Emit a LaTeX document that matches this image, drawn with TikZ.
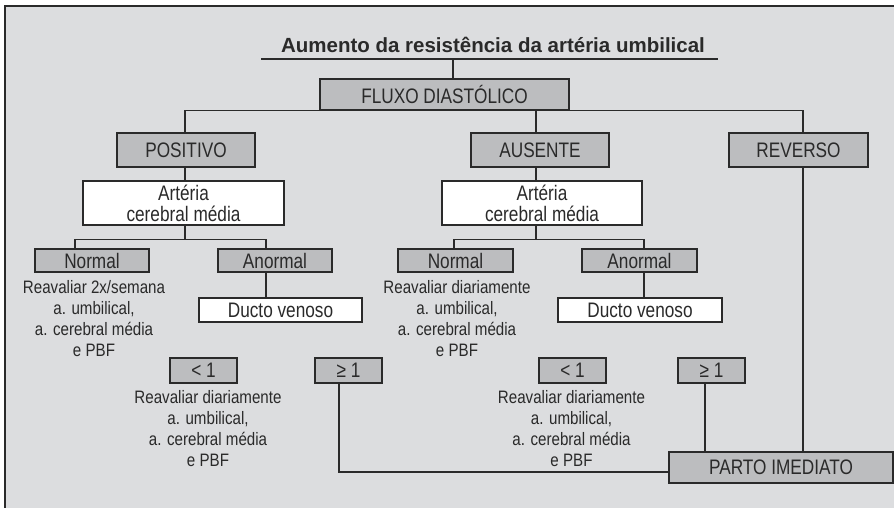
\documentclass[tikz,border=0pt]{standalone}
\usepackage{fontspec}
\setmainfont{Liberation Sans}
\newfontfamily\narrowfont{Liberation Sans}[FakeStretch=0.82]
\newfontfamily\notefont{Liberation Sans}[FakeStretch=0.84]
\usepackage{xcolor}
\definecolor{panelgray}{HTML}{DCDDDF}
\definecolor{boxgray}{HTML}{BCBDBF}
\definecolor{inkgray}{HTML}{2A2A2A}
\usetikzlibrary{shapes,calc}
\tikzstyle{graybox} = [rectangle, draw=inkgray, fill=boxgray, line width=1.3pt,
   inner sep=0pt, text centered, font=\narrowfont\fontsize{21}{21}\selectfont]
\tikzstyle{whitebox} = [rectangle, draw=inkgray, fill=white, line width=1.3pt,
   inner sep=0pt, text centered, font=\narrowfont\fontsize{21}{21}\selectfont]
\tikzstyle{note} = [align=center, inner sep=0pt,
   font=\notefont\fontsize{18}{21}\selectfont]
\tikzstyle{line} = [draw=inkgray, line width=1.3pt]

\begin{document}
\begin{tikzpicture}[x=1pt, y=-1pt, text=inkgray]
\useasboundingbox (0,0) rectangle (894,507);
\clip (0,0) rectangle (894,507);
\draw [fill=panelgray, draw=inkgray, line width=1.6pt] (5,6) rectangle (910,520);
% Place nodes
\node [font=\bfseries\fontsize{20.5}{24}\selectfont, inner sep=0pt] (title) at (493,45) {Aumento da resistência da artéria umbilical};
\coordinate (ulA) at (261,59);
\coordinate (ulB) at (718,59);
\node [graybox, minimum width=249, minimum height=31] (fluxo) at (444.5,94.5) {FLUXO DIASTÓLICO};
\node [graybox, minimum width=138, minimum height=34] (pos) at (186,150) {POSITIVO};
\node [graybox, minimum width=138, minimum height=34] (aus) at (540,150) {AUSENTE};
\node [graybox, minimum width=139, minimum height=34] (rev) at (798.5,150) {REVERSO};
\node [whitebox, minimum width=201, minimum height=44, align=center] (art1) at (183.5,203) {Artéria\\cerebral média};
\node [whitebox, minimum width=200, minimum height=44, align=center] (art2) at (542,203) {Artéria\\cerebral média};
\node [graybox, minimum width=114, minimum height=23] (norm1) at (92,260.5) {Normal};
\node [graybox, minimum width=114, minimum height=23] (anorm1) at (275,260.5) {Anormal};
\node [graybox, minimum width=115, minimum height=23] (norm2) at (455.5,260.5) {Normal};
\node [graybox, minimum width=115, minimum height=23] (anorm2) at (639.5,260.5) {Anormal};
\node [note] (txtA) at (94,318.5) {Reavaliar 2x/semana\\a. umbilical,\\a. cerebral média\\e PBF};
\node [note] (txtB) at (457,318.5) {Reavaliar diariamente\\a. umbilical,\\a. cerebral média\\e PBF};
\node [whitebox, minimum width=163, minimum height=24] (ducto1) at (280.5,310) {Ducto venoso};
\node [whitebox, minimum width=164, minimum height=24] (ducto2) at (640,310) {Ducto venoso};
\node [graybox, minimum width=67, minimum height=25] (lt1) at (203.5,370.5) {< 1};
\node [graybox, minimum width=67, minimum height=25] (ge1) at (348.5,370.5) {≥ 1};
\node [graybox, minimum width=67, minimum height=25] (lt2) at (572.5,370.5) {< 1};
\node [graybox, minimum width=67, minimum height=25] (ge2) at (711.5,370.5) {≥ 1};
\node [note] (txtC) at (208,428.5) {Reavaliar diariamente\\a. umbilical,\\a. cerebral média\\e PBF};
\node [note] (txtD) at (571.5,428.5) {Reavaliar diariamente\\a. umbilical,\\a. cerebral média\\e PBF};
\node [graybox, minimum width=224, minimum height=31] (parto) at (781,467.5) {PARTO IMEDIATO};
% Draw edges
\path [line] (ulA) -- (ulB);
\path [line] ([xshift=8.5]fluxo.north) -- ([xshift=8.5]fluxo.north |- ulA);
\path [line] ([xshift=-1]pos.north) |- (fluxo.south);
\path [line] ([xshift=4.5]rev.north) |- (fluxo.south);
\path [line] ([xshift=-4]aus.north) -- ([xshift=-4]aus.north |- fluxo.south);
\path [line] ([xshift=-1]pos.south) -- ([xshift=-1]pos.south |- art1.north);
\path [line] ([xshift=-4]aus.south) -- ([xshift=-4]aus.south |- art2.north);
\path [line] ([xshift=1.5]art1.south) -- ++(0,14) -| ([xshift=-17]norm1.north);
\path [line] ([xshift=1.5]art1.south) ++(0,14) -| ([xshift=-9]anorm1.north);
\path [line] ([xshift=-6]art2.south) -- ++(0,14) -| ([xshift=-1.5]norm2.north);
\path [line] ([xshift=-6]art2.south) ++(0,14) -| ([xshift=4.5]anorm2.north);
\path [line] ([xshift=-9]anorm1.south) -- ([xshift=-9]anorm1.south |- ducto1.north);
\path [line] ([xshift=4.5]anorm2.south) -- ([xshift=4.5]anorm2.south |- ducto2.north);
\path [line] ([xshift=-9.5]ge1.south) |- ([yshift=-4.5]parto.west);
\path [line] ([xshift=-6.5]ge2.south) -- ([xshift=-6.5]ge2.south |- parto.north);
\path [line] ([xshift=4.5]rev.south) -- ([xshift=4.5]rev.south |- parto.north);
\end{tikzpicture}
\end{document}
